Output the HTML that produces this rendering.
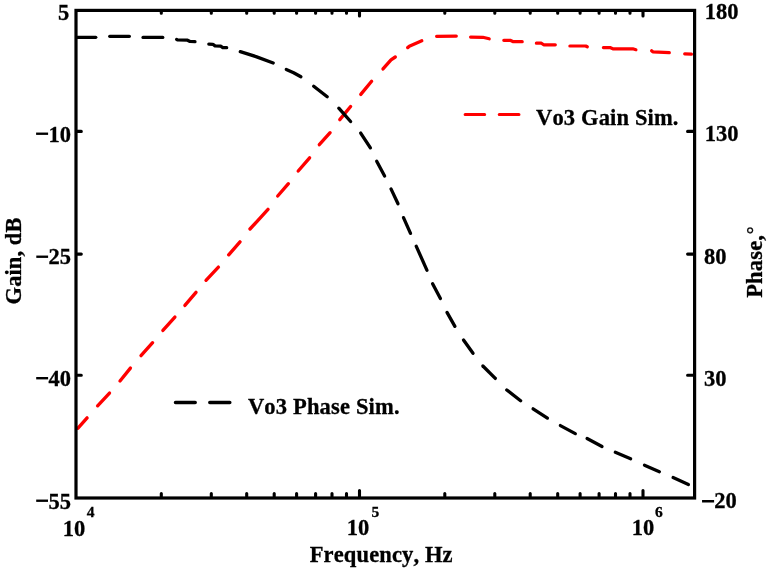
<!DOCTYPE html>
<html><head><meta charset="utf-8"><style>
html,body{margin:0;padding:0;background:#fff;width:771px;height:572px;overflow:hidden}
svg{display:block;will-change:transform}
</style></head><body>
<svg width="771" height="572" viewBox="0 0 771 572">
<rect width="771" height="572" fill="#fff"/>
<g stroke="#ff0000" stroke-linecap="round" stroke-linejoin="round" fill="none"><path d="M78.0,428.2 L87.1,417.9" stroke-width="3.36"/><path d="M97.6,405.8 L109.5,393.1" stroke-width="3.36"/><path d="M120.0,381.0 L130.4,368.1" stroke-width="3.36"/><path d="M141.0,355.6 L152.6,342.7" stroke-width="3.36"/><path d="M162.9,330.4 L174.9,317.1" stroke-width="3.36"/><path d="M184.9,305.4 L196.0,292.4" stroke-width="3.36"/><path d="M206.0,280.3 L218.4,267.1" stroke-width="3.36"/><path d="M228.7,254.8 L240.0,241.9" stroke-width="3.36"/><path d="M250.0,229.0 L268.0,209.4" stroke-width="3.36"/><path d="M277.7,196.0 L288.4,183.7" stroke-width="3.36"/><path d="M298.2,171.0 L309.6,157.8" stroke-width="3.36"/><path d="M319.3,144.7 L330.1,132.7" stroke-width="3.36"/><path d="M339.8,119.6 L350.6,106.5" stroke-width="3.36"/><path d="M360.8,94.4 L371.6,81.3" stroke-width="3.36"/><path d="M383.0,68.9 L391.0,59.9 L395.3,57.0" stroke-width="3.36"/><path d="M407.7,47.6 L409.3,46.3 L421.8,40.8" stroke-width="3.33"/><path d="M436.6,36.3 L456.3,36.1" stroke-width="3.20"/><path d="M470.6,37.1 L482.8,37.3 L489.2,38.8" stroke-width="3.23"/><path d="M503.8,40.3 L510.2,40.3 L513.3,41.7 L522.2,41.7" stroke-width="3.22"/><path d="M536.4,43.2 L541.4,43.2 L543.7,44.8 L555.3,44.8" stroke-width="3.22"/><path d="M569.9,46.0 L585.7,46.0 L587.3,46.8" stroke-width="3.22"/><path d="M603.4,47.6 L610.0,47.6 L612.8,48.8 L632.8,48.8 L635.9,49.7" stroke-width="3.22"/><path d="M651.6,50.8 L652.8,51.8 L669.3,52.7" stroke-width="3.24"/><path d="M684.7,53.9 L691.4,54.2" stroke-width="3.22"/></g>
<g stroke="#000" stroke-linecap="round" stroke-linejoin="round" fill="none"><path d="M77.3,37.3 L95.8,37.3" stroke-width="3.20"/><path d="M109.7,36.3 L129.4,36.3" stroke-width="3.20"/><path d="M143.0,37.4 L162.8,37.4" stroke-width="3.20"/><path d="M176.6,39.4 L177.5,40.0 L187.5,40.2 L190.0,41.5 L195.0,41.6" stroke-width="3.25"/><path d="M208.8,44.1 L212.9,44.3 L215.0,45.9 L220.7,46.2 L222.8,47.6 L226.7,47.7" stroke-width="3.26"/><path d="M240.3,51.7 L256.0,56.6 L273.2,63.0" stroke-width="3.30"/><path d="M286.3,69.4 L293.6,72.7 L300.9,76.8" stroke-width="3.33"/><path d="M313.7,86.2 L327.2,96.8" stroke-width="3.36"/><path d="M338.8,108.2 L350.6,121.5" stroke-width="3.36"/><path d="M360.7,133.1 L370.4,147.8" stroke-width="3.35"/><path d="M376.7,161.2 L384.6,176.0" stroke-width="3.33"/><path d="M391.0,188.9 L398.0,203.7" stroke-width="3.32"/><path d="M403.5,217.6 L410.5,233.4" stroke-width="3.32"/><path d="M416.3,246.3 L426.9,270.2" stroke-width="3.32"/><path d="M432.6,283.7 L440.4,298.5" stroke-width="3.33"/><path d="M447.0,312.4 L454.9,326.3" stroke-width="3.34"/><path d="M463.5,340.1 L473.0,353.3" stroke-width="3.35"/><path d="M482.9,366.0 L495.3,378.4" stroke-width="3.36"/><path d="M506.8,390.0 L520.6,400.7" stroke-width="3.35"/><path d="M533.1,408.8 L547.4,418.1" stroke-width="3.35"/><path d="M560.4,425.6 L575.3,433.6" stroke-width="3.33"/><path d="M587.1,438.5 L602.0,446.5" stroke-width="3.33"/><path d="M615.3,452.3 L630.6,458.8" stroke-width="3.31"/><path d="M644.5,465.2 L659.4,471.7" stroke-width="3.32"/><path d="M673.1,477.6 L688.4,484.6" stroke-width="3.32"/></g>
<rect x="76.0" y="10.4" width="618.6" height="487.6" fill="none" stroke="#000" stroke-width="3.2"/>
<path d="M161.3,496.6 L161.3,493.6 M161.3,11.8 L161.3,13.2 M211.3,496.6 L211.3,493.6 M211.3,11.8 L211.3,13.2 M246.7,496.6 L246.7,493.6 M246.7,11.8 L246.7,13.2 M274.2,496.6 L274.2,493.6 M274.2,11.8 L274.2,13.2 M296.6,496.6 L296.6,493.6 M296.6,11.8 L296.6,13.2 M315.6,496.6 L315.6,493.6 M315.6,11.8 L315.6,13.2 M332.0,496.6 L332.0,493.6 M332.0,11.8 L332.0,13.2 M346.5,496.6 L346.5,493.6 M346.5,11.8 L346.5,13.2 M444.8,496.6 L444.8,493.6 M444.8,11.8 L444.8,13.2 M494.8,496.6 L494.8,493.6 M494.8,11.8 L494.8,13.2 M530.2,496.6 L530.2,493.6 M530.2,11.8 L530.2,13.2 M557.7,496.6 L557.7,493.6 M557.7,11.8 L557.7,13.2 M580.1,496.6 L580.1,493.6 M580.1,11.8 L580.1,13.2 M599.1,496.6 L599.1,493.6 M599.1,11.8 L599.1,13.2 M615.5,496.6 L615.5,493.6 M615.5,11.8 L615.5,13.2 M630.0,496.6 L630.0,493.6 M630.0,11.8 L630.0,13.2 M359.5,496.6 L359.5,490.6 M359.5,11.8 L359.5,16.0 M643.0,496.6 L643.0,490.6 M643.0,11.8 L643.0,16.0 M77.4,131.4 L81.3,131.4 M693.2,131.4 L687.6,131.4 M77.4,254.1 L81.3,254.1 M693.2,254.1 L687.6,254.1 M77.4,375.2 L81.3,375.2 M693.2,375.2 L687.6,375.2" stroke="#000" stroke-width="3.1" stroke-linecap="round" fill="none"/>
<path d="M465.2,114.5 L484.6,114.5 M499.3,114.5 L518.9,114.5" stroke="#ff0000" stroke-width="3.2" stroke-linecap="round" fill="none"/>
<path d="M175.5,402.6 L195.2,402.6 M209.8,402.6 L229.8,402.6" stroke="#000" stroke-width="3.5" stroke-linecap="round" fill="none"/>
<g style='font-family:"Liberation Serif",serif;font-weight:bold;stroke:#000;stroke-width:0.3px;font-kerning:none' fill="#000">
<text x="58.06" y="19.77" style="font-size:22.50px">5</text>
<text x="48.46" y="141.54" style="font-size:22.50px">10</text>
<text x="48.57" y="264.20" style="font-size:22.50px">25</text>
<text x="48.55" y="385.82" style="font-size:22.50px">40</text>
<text x="48.45" y="508.69" style="font-size:22.50px">55</text>
<text x="704.66" y="19.21" style="font-size:22.50px">180</text>
<text x="704.81" y="141.10" style="font-size:22.50px">130</text>
<text x="703.88" y="263.98" style="font-size:22.50px">80</text>
<text x="703.93" y="385.57" style="font-size:22.50px">30</text>
<text x="714.19" y="508.44" style="font-size:22.50px">20</text>
<text x="62.64" y="535.87" style="font-size:22.50px">10</text>
<text x="86.85" y="517.18" style="font-size:15.50px">4</text>
<text x="346.77" y="535.44" style="font-size:22.50px">10</text>
<text x="371.44" y="517.32" style="font-size:15.50px">5</text>
<text x="631.76" y="535.36" style="font-size:22.50px">10</text>
<text x="655.08" y="517.49" style="font-size:15.50px">6</text>
<text x="309.75" y="562.38" style="font-size:22.50px;letter-spacing:0.13px">Frequency, Hz</text>
<text x="536.05" y="125.40" style="font-size:22.50px;letter-spacing:0.15px">Vo3 Gain Sim.</text>
<text x="247.96" y="414.38" style="font-size:22.50px;letter-spacing:0.17px">Vo3 Phase Sim.</text>
<text transform="translate(20.60,304.38) rotate(-90)" style="font-size:22.50px;letter-spacing:0.08px">Gain, dB</text>
<text transform="translate(762.10,297.86) rotate(-90)" style="font-size:22.50px;letter-spacing:0.19px">Phase,<tspan style="font-size:19.5px" dx="0.6" dy="-2.2">°</tspan></text>
</g>
<g fill="#000"><rect x="36.10" y="132.55" width="12.00" height="2.35"/><rect x="36.30" y="255.55" width="11.80" height="2.35"/><rect x="36.20" y="377.00" width="11.90" height="2.40"/><rect x="36.20" y="499.55" width="11.80" height="2.35"/><rect x="702.05" y="500.00" width="12.05" height="2.50"/></g>
</svg>
</body></html>
